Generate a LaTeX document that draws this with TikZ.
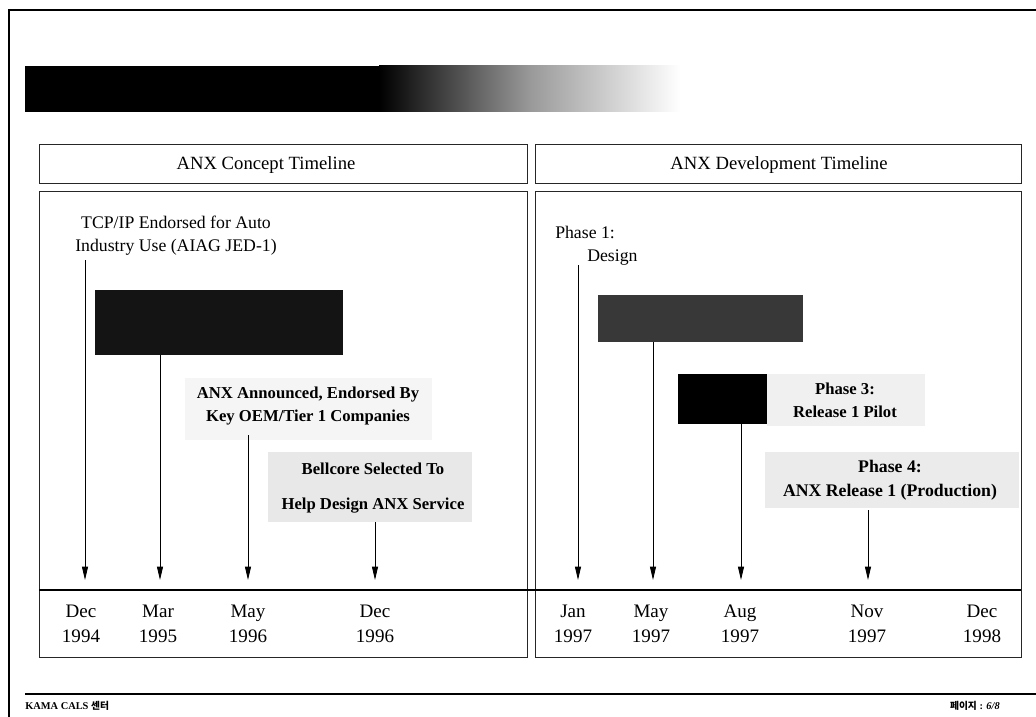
\documentclass[tikz,border=0pt]{standalone}
\usepackage{fontspec}
\setmainfont{Liberation Serif}
\newfontfamily\kr{Noto Sans CJK KR}
\usetikzlibrary{arrows.meta,fit}
\begin{document}
\begin{tikzpicture}[x=0.75pt,y=-0.75pt,
  panel/.style={draw=black!85, line width=0.7pt},
  hdr/.style={font=\fontsize{14}{16}\selectfont, inner sep=0pt},
  txt/.style={font=\fontsize{13.3}{17.25}\selectfont, align=center, inner sep=0pt},
  btxt/.style={font=\fontsize{12.5}{17.25}\selectfont\bfseries, align=center, inner sep=0pt},
  date/.style={font=\fontsize{14.3}{18.75}\selectfont, align=center, inner sep=0pt},
  tick/.style={-{Triangle[length=10pt,width=4.5pt]}, line width=0.7pt},
  bar/.style={inner sep=0pt, draw=none},
  bg/.style={inner sep=0pt, draw=none},
  foot/.style={font=\fontsize{7.8}{9}\selectfont\bfseries, inner sep=0pt}
]
\useasboundingbox (0,0) rectangle (1036,717);
% page frame
\draw[line width=1.5pt] (9,717) -- (9,10) -- (1036,10);
% gradient banner
\fill[black] (25,66) rectangle (380,112);
\shade[left color=black, right color=white, middle color=black!40] (379,66) rectangle (680,112);
% panels
\draw[panel] (39,144) rectangle (527,183);
\draw[panel] (535,144) rectangle (1021,183);
\draw[panel] (39,191) rectangle (527,657);
\draw[panel] (535,191) rectangle (1021,657);
\node[hdr] (hl) at (266,165) {ANX Concept Timeline};
\node[hdr] (hr) at (779,165) {ANX Development Timeline};
% timeline line
\draw[line width=2pt] (39,590) -- (1021,590);
% backgrounds
\node[bg, fit={(185,378) (432,440)}, fill=black!4] (bgA) {};
\node[bg, fit={(268,452) (472,522)}, fill=black!9] (bgB) {};
\node[bg, fit={(767,374) (925,426)}, fill=black!6] (bg3) {};
\node[bg, fit={(765,452) (1019,508)}, fill=black!8] (bg4) {};
% bars
\node[bar, fit={(95,290) (343,355)}, fill=black!92] (r1) {};
\node[bar, fit={(598,295) (803,342)}, fill=black!78] (r2) {};
\node[bar, fit={(678,374) (767,424)}, fill=black] (r3) {};
% texts
\node[txt] (tcp) at (176,236) {TCP/IP Endorsed for Auto\\Industry Use (AIAG JED-1)};
\node[btxt] (anx) at (308,406) {ANX Announced, Endorsed By\\Key OEM/Tier 1 Companies};
\node[btxt] (bell) at (373,488) {Bellcore Selected To\\[9pt]Help Design ANX Service};
\node[txt, align=left, anchor=west] (p1) at (555,246) {Phase 1:\\\hspace*{24pt}Design};
\node[btxt] (p3) at (845,400) {Phase 3:\\Release 1 Pilot};
\node[btxt, font=\fontsize{13.3}{18}\selectfont\bfseries] (p4) at (890,480) {Phase 4:\\ANX Release 1 (Production)};
% timeline end points
\coordinate (e1) at (85,580);
\coordinate (e2) at (160,580);
\coordinate (e3) at (248,580);
\coordinate (e4) at (375,580);
\coordinate (f1) at (578,580);
\coordinate (f2) at (653,580);
\coordinate (f3) at (741,580);
\coordinate (f4) at (868,580);
\coordinate (s1) at (85,260);
\coordinate (s3) at (248,435);
\coordinate (s4) at (375,522);
\coordinate (t1) at (578,265);
\coordinate (t4) at (868,510);
% arrows
\draw[tick] (s1) -- (e1);
\draw[tick] (r1.south -| e2) -- (e2);
\draw[tick] (s3) -- (e3);
\draw[tick] (s4) -- (e4);
\draw[tick] (t1) -- (f1);
\draw[tick] (r2.south -| f2) -- (f2);
\draw[tick] (r3.south -| f3) -- (f3);
\draw[tick] (t4) -- (f4);
% dates
\node[date] (d1) at (81,624) {Dec\\1994};
\node[date] (d2) at (158,624) {Mar\\1995};
\node[date] (d3) at (248,624) {May\\1996};
\node[date] (d4) at (375,624) {Dec\\1996};
\node[date] (d5) at (573,624) {Jan\\1997};
\node[date] (d6) at (651,624) {May\\1997};
\node[date] (d7) at (740,624) {Aug\\1997};
\node[date] (d8) at (867,624) {Nov\\1997};
\node[date] (d9) at (982,624) {Dec\\1998};
% footer
\draw[line width=1pt] (25,694) -- (1036,694);
\node[foot, anchor=west] (fl) at (25,706) {KAMA CALS {\kr\fontsize{7.3}{9}\selectfont 센터}};
\node[foot, anchor=east] (fr) at (1000,706) {{\kr\fontsize{7.3}{9}\selectfont 페이지} : \itshape 6/8};
\end{tikzpicture}
\end{document}
